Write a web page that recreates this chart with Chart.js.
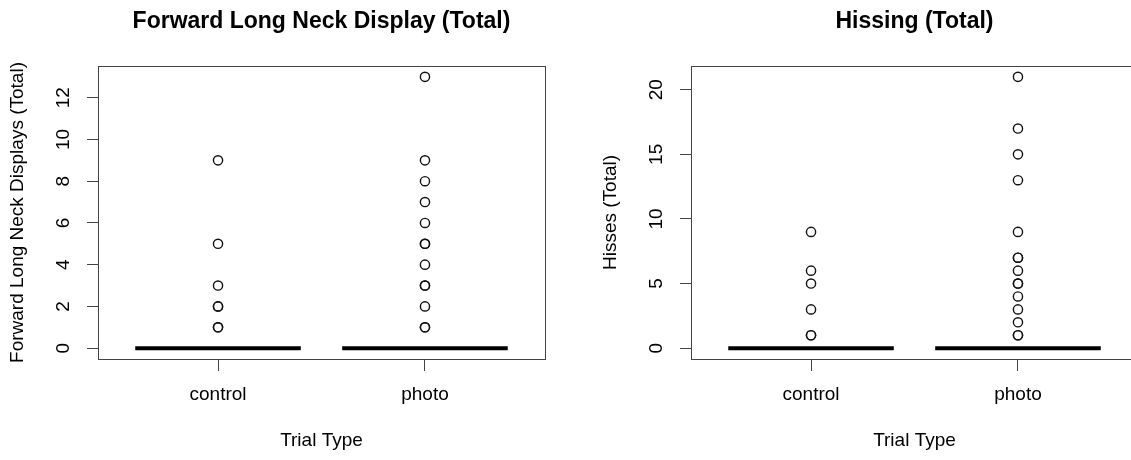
<!DOCTYPE html>
<html>
<head>
<meta charset="utf-8">
<script src="https://cdn.jsdelivr.net/npm/chart.js@4"></script>
<style>
    body { margin: 0; background: #fff; overflow: hidden; }
    #wrap { position: relative; width: 1131px; height: 460px; overflow: hidden; }
    .panel { position: absolute; top: 0; width: 593px; height: 460px; }
</style>
</head>
<body>
<div id="wrap">
    <div class="panel" style="left:0"><canvas id="fln" width="593" height="460"></canvas></div>
    <div class="panel" style="left:593px"><canvas id="hiss" width="593" height="460"></canvas></div>
</div>
<script>
const categories = ['control', 'photo'];

// forward long neck displays
const flnMedians = [0, 0];
const flnControlOutliers = [1, 1, 2, 2, 3, 5, 9];
const flnPhotoOutliers = [1, 1, 2, 3, 3, 4, 5, 5, 6, 7, 8, 9, 13];
const flnTicks = [0, 2, 4, 6, 8, 10, 12];

// hisses
const hissMedians = [0, 0];
const hissControlOutliers = [1, 1, 3, 5, 6, 9];
const hissPhotoOutliers = [1, 1, 2, 3, 4, 5, 5, 6, 7, 7, 9, 13, 15, 17, 21];
const hissTicks = [0, 5, 10, 15, 20];

const FONT = '"Liberation Sans", Arial, Helvetica, sans-serif';
const BOX_HALF = 0.4;
const INK = '#444';

const frameBox = {
    id: 'frameBox',
    afterDatasetsDraw (chart) {
        const { ctx, chartArea: a } = chart;
        ctx.save();
        ctx.strokeStyle = INK;
        ctx.lineWidth = 1;
        ctx.strokeRect(Math.round(a.left) + 0.5, Math.round(a.top) + 0.5,
            Math.round(a.right - a.left), Math.round(a.bottom - a.top));
        ctx.restore();
    }
};

function drawBoxplot (canvasId, titleText, yTitle, medians, outlierGroups, yTicks) {
    const allValues = medians.concat(...outlierGroups);
    const lo = Math.min(...allValues);
    const hi = Math.max(...allValues);
    const ext = (hi - lo) * 0.04;

    const medianSets = medians.map((m, i) => ({
        type: 'line',
        data: [{ x: i + 1 - BOX_HALF, y: m }, { x: i + 1 + BOX_HALF, y: m }],
        borderColor: '#000',
        borderWidth: 4,
        borderCapStyle: 'butt',
        pointRadius: 0
    }));

    const outlierSet = {
        type: 'scatter',
        data: outlierGroups.flatMap((g, i) => g.map(v => ({ x: i + 1, y: v }))),
        pointStyle: 'circle',
        pointRadius: 4.6,
        borderWidth: 1.4,
        borderColor: '#111',
        backgroundColor: 'rgba(0,0,0,0)'
    };

    new Chart(document.getElementById(canvasId), {
        type: 'scatter',
        data: { datasets: [...medianSets, outlierSet] },
        options: {
            responsive: false,
            animation: false,
            layout: { padding: { top: 0, left: 0, right: 48, bottom: 0 } },
            plugins: {
                legend: { display: false },
                tooltip: { enabled: false },
                title: {
                    display: true,
                    fullSize: false,
                    text: titleText,
                    color: '#000',
                    font: { family: FONT, size: 23, weight: 'bold', lineHeight: 1.2 },
                    padding: { top: 8, bottom: 30.4 }
                }
            },
            scales: {
                x: {
                    type: 'linear',
                    min: 0.5 - 0.08,
                    max: categories.length + 0.5 + 0.08,
                    afterBuildTicks: (scale) => {
                        scale.ticks = categories.map((c, i) => ({ value: i + 1 }));
                    },
                    afterFit: (scale) => { scale.height = 101; },
                    ticks: {
                        autoSkip: false,
                        maxRotation: 0,
                        color: '#000',
                        padding: 12,
                        font: { family: FONT, size: 19 },
                        callback: (value) => categories[value - 1]
                    },
                    grid: { drawOnChartArea: false, drawTicks: true, tickLength: 12, color: INK },
                    border: { display: false },
                    title: {
                        display: true,
                        text: 'Trial Type',
                        color: '#000',
                        font: { family: FONT, size: 19, lineHeight: 1.2 },
                        padding: { top: 0, bottom: 7.6 }
                    }
                },
                y: {
                    type: 'linear',
                    min: lo - ext,
                    max: hi + ext,
                    afterBuildTicks: (scale) => {
                        scale.ticks = yTicks.map(v => ({ value: v }));
                    },
                    afterFit: (scale) => { scale.width = 98; },
                    ticks: {
                        minRotation: 90,
                        maxRotation: 90,
                        crossAlign: 'center',
                        color: '#000',
                        padding: 12.5,
                        font: { family: FONT, size: 19 },
                        callback: (value) => String(value)
                    },
                    grid: { drawOnChartArea: false, drawTicks: true, tickLength: 11, color: INK },
                    border: { display: false },
                    title: {
                        display: true,
                        text: yTitle,
                        color: '#000',
                        font: { family: FONT, size: 19, lineHeight: 1.2 },
                        padding: { top: 6.6, bottom: 0 }
                    }
                }
            }
        },
        plugins: [frameBox]
    });
}

drawBoxplot('fln', 'Forward Long Neck Display (Total)', 'Forward Long Neck Displays (Total)',
    flnMedians, [flnControlOutliers, flnPhotoOutliers], flnTicks);
drawBoxplot('hiss', 'Hissing (Total)', 'Hisses (Total)',
    hissMedians, [hissControlOutliers, hissPhotoOutliers], hissTicks);
</script>
</body>
</html>
